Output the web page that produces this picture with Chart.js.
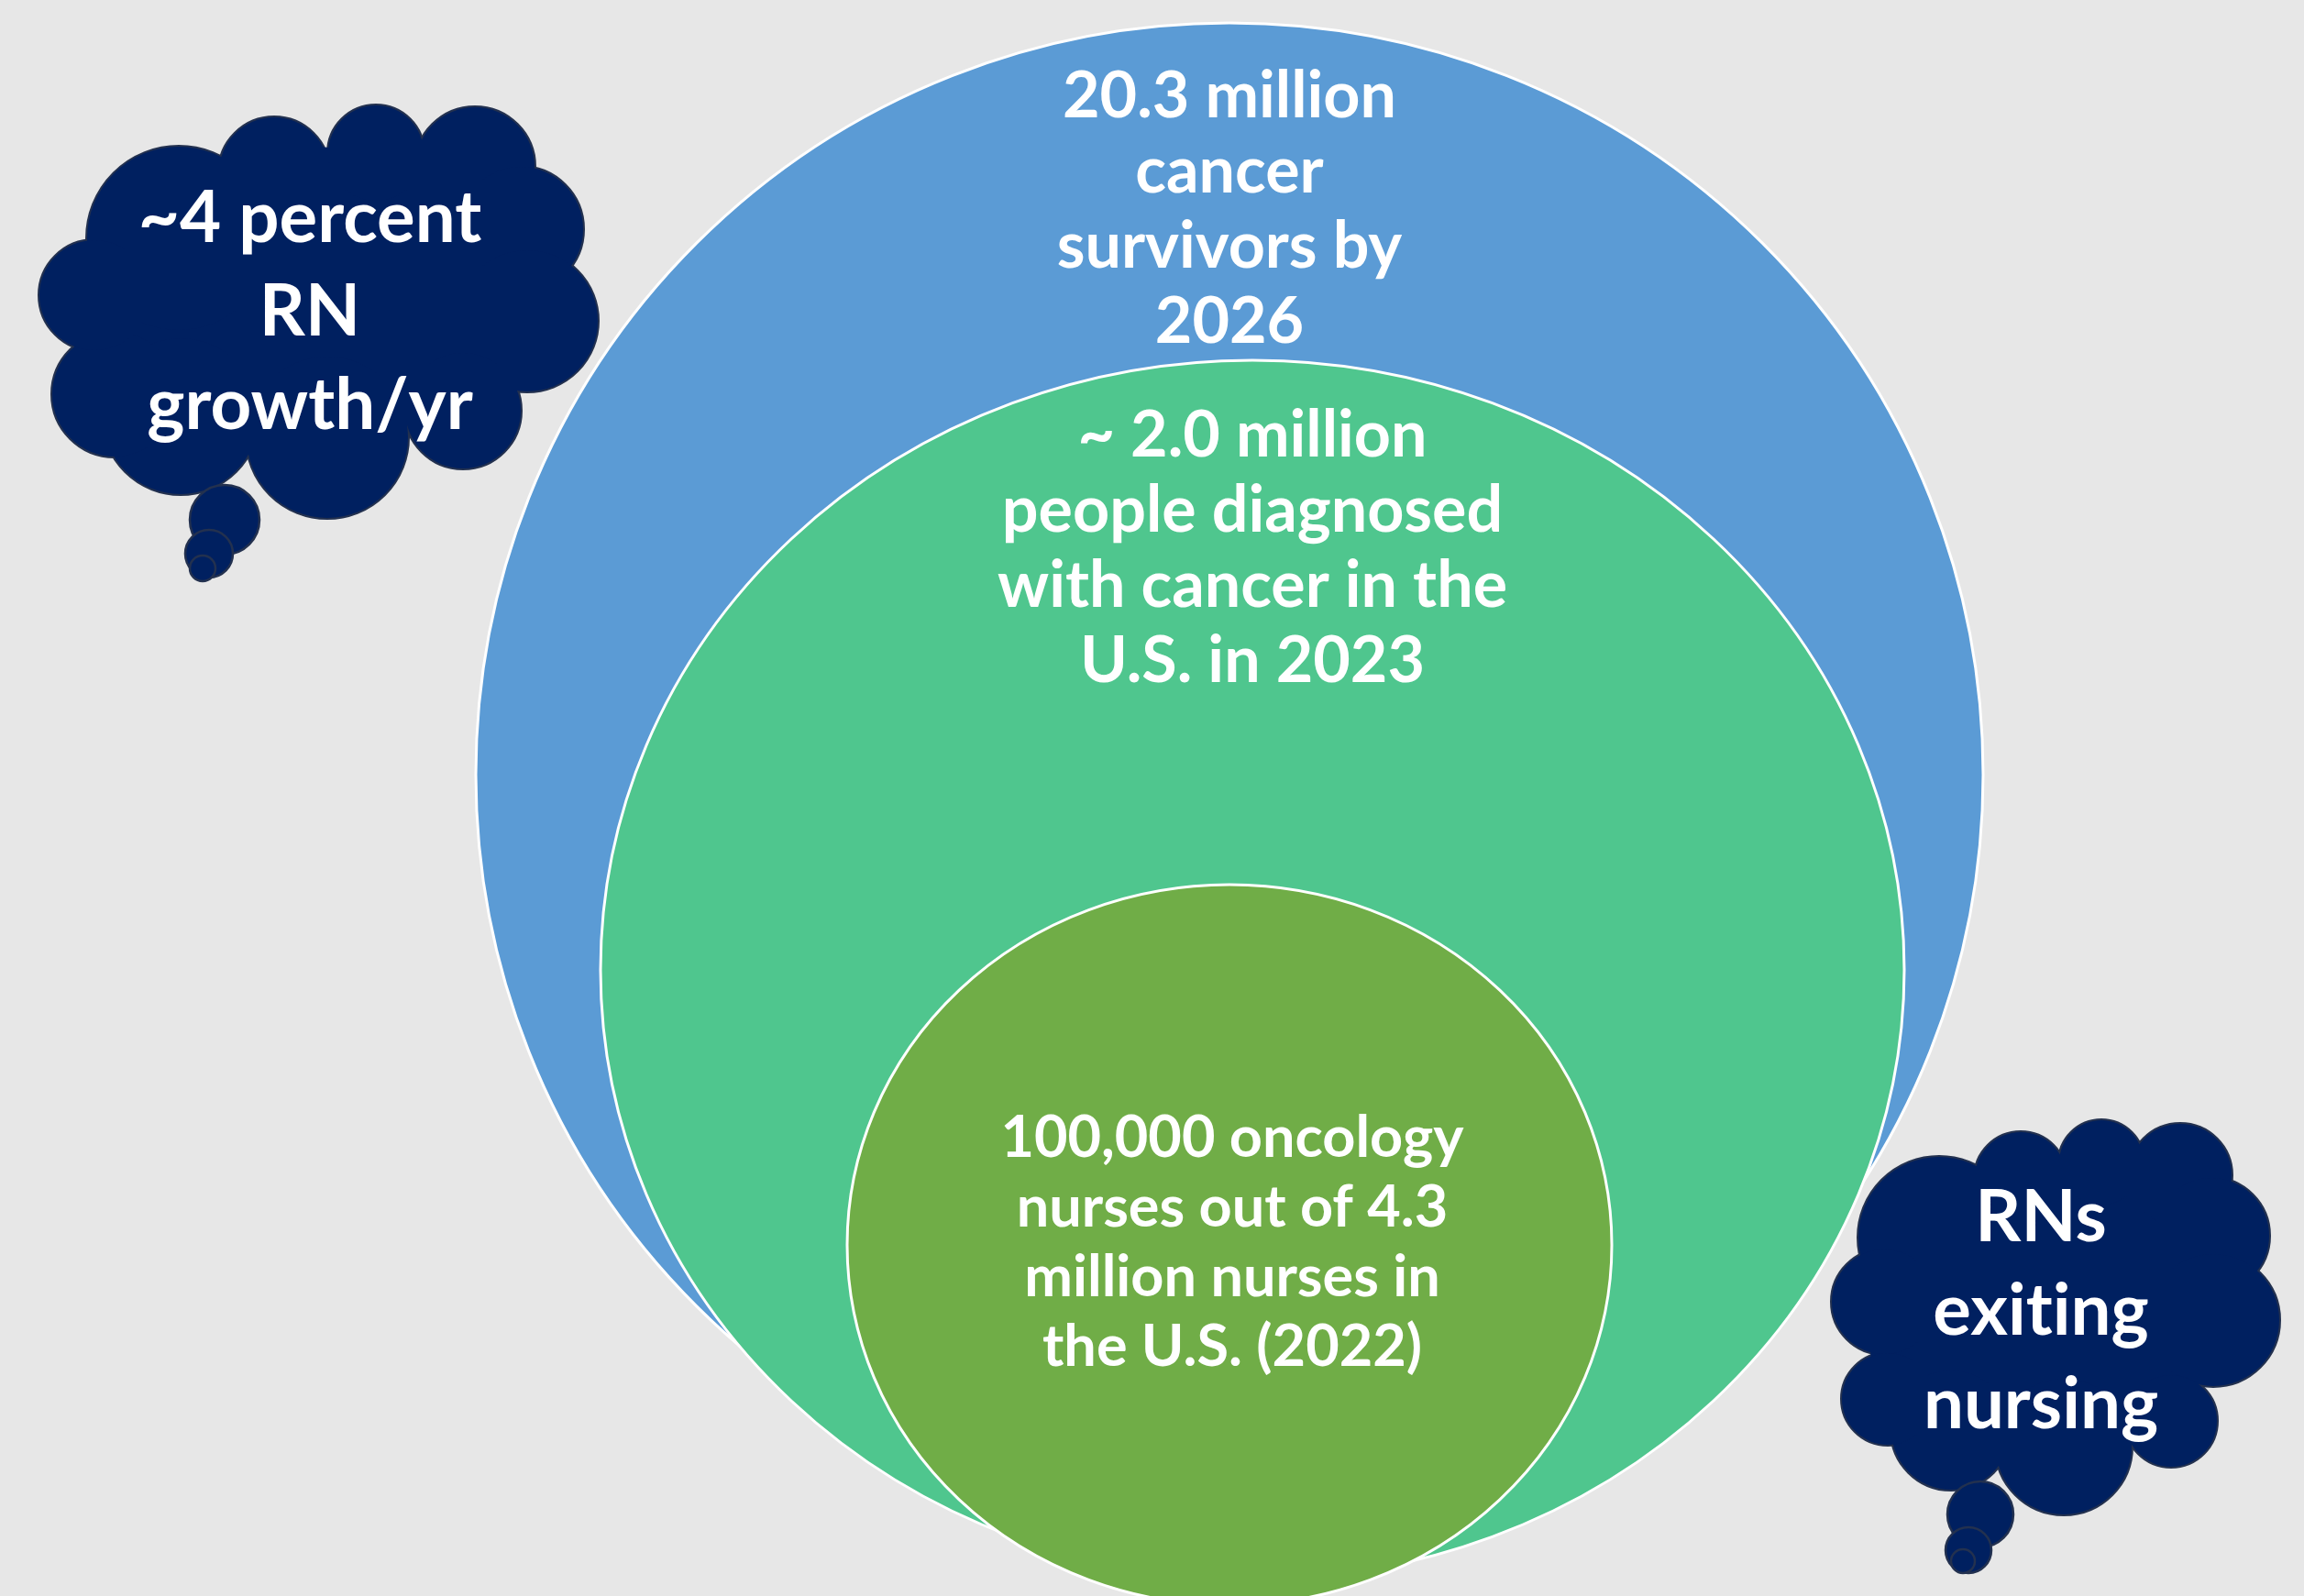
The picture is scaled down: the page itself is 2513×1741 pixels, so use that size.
<!DOCTYPE html>
<html>
<head>
<meta charset="utf-8">
<title>Oncology nursing workforce</title>
<script src="https://cdn.jsdelivr.net/npm/chart.js@4.4.1/dist/chart.umd.min.js"></script>
<style>
  html, body { margin: 0; padding: 0; background: #e7e7e7; overflow: hidden; }
  canvas { display: block; }
</style>
</head>
<body>
<canvas id="nested" width="2513" height="1741"></canvas>
<script>
// nested ellipses (data units = slide units)
const ringNames = ['survivors', 'diagnosed', 'oncologyNurses'];
const ringCenterX = [1341, 1366, 1341];
const ringCenterY = [845, 1058, 1358];
const ringRadiusX = [822, 711, 417];
const ringRadiusY = [820, 665, 393];
const ringLabels = [
  ['20.3 million', 'cancer', 'survivors by', '2026'],
  ['~ 2.0 million', 'people diagnosed', 'with cancer in the', 'U.S. in 2023'],
  ['100,000 oncology', 'nurses out of 4.3', 'million nurses in', 'the U.S. (2022)']
];

// thought clouds: puffs {x, y, r}
const leftCloudPuffs = [
  {x: 195, y: 260, r: 100}, {x: 299, y: 188, r: 60}, {x: 410, y: 167, r: 52},
  {x: 518, y: 182, r: 65}, {x: 568, y: 250, r: 68}, {x: 575, y: 350, r: 77},
  {x: 505, y: 448, r: 63}, {x: 357, y: 477, r: 88}, {x: 197, y: 454, r: 85},
  {x: 125, y: 430, r: 68}, {x: 103, y: 322, r: 60}
];
const leftCloudCore = [{x: 340, y: 330, r: 170}, {x: 430, y: 310, r: 150}, {x: 200, y: 360, r: 90}];
const leftCloudTail = [{x: 245, y: 567, r: 38}, {x: 228, y: 604, r: 26}, {x: 221, y: 620, r: 14}];

const rightCloudPuffs = [
  {x: 2115, y: 1350, r: 88}, {x: 2204, y: 1285, r: 50}, {x: 2292, y: 1268, r: 46},
  {x: 2378, y: 1282, r: 56}, {x: 2412, y: 1348, r: 63}, {x: 2414, y: 1440, r: 72},
  {x: 2368, y: 1550, r: 50}, {x: 2251, y: 1578, r: 74}, {x: 2128, y: 1560, r: 65},
  {x: 2059, y: 1526, r: 50}, {x: 2055, y: 1420, r: 57}
];
const rightCloudCore = [{x: 2240, y: 1430, r: 150}, {x: 2300, y: 1410, r: 130}, {x: 2120, y: 1470, r: 80}];
const rightCloudTail = [{x: 2160, y: 1652, r: 36}, {x: 2147, y: 1691, r: 25}, {x: 2141, y: 1703, r: 13}];

const cloudLabels = [
  ['~4 percent', 'RN', 'growth/yr'],
  ['RNs', 'exiting', 'nursing']
];

const ringColors = ['#5b9bd5', '#4fc68e', '#70ad47'];
const navy = '#002060';
const puffEdge = '#23314f';

// where each text block sits: centre x, first baseline, line step, font size
const ringText = [
  {x: 1341, y: 128, step: 82, size: 70},
  {x: 1366, y: 498, step: 82, size: 70},
  {x: 1344, y: 1262, step: 76, size: 63}
];
const cloudText = [
  {x: 338, y: 264, step: 102, size: 78},
  {x: 2226, y: 1354, step: 102, size: 78}
];

const ellipsePlugin = {
  id: 'ellipses',
  beforeDatasetsDraw(chart) {
    const {ctx, scales: {x, y}} = chart;
    ctx.save();
    ringNames.forEach(function(name, i) {
      const px = x.getPixelForValue(ringCenterX[i]);
      const py = y.getPixelForValue(ringCenterY[i]);
      const rx = Math.abs(x.getPixelForValue(ringCenterX[i] + ringRadiusX[i]) - px);
      const ry = Math.abs(y.getPixelForValue(ringCenterY[i] + ringRadiusY[i]) - py);
      ctx.beginPath();
      ctx.ellipse(px, py, rx, ry, 0, 0, Math.PI * 2);
      ctx.fillStyle = ringColors[i];
      ctx.fill();
      ctx.lineWidth = 3;
      ctx.strokeStyle = '#ffffff';
      ctx.stroke();
    });
    ctx.restore();
  }
};

function drawLines(ctx, x, y, lines, spot) {
  ctx.font = 'bold ' + spot.size + 'px Lato, "Open Sans", sans-serif';
  lines.forEach(function(line, i) {
    // zero-width non-joiner keeps Lato from using its "ti" ligature
    const txt = line.replace(/ti/g, 't\u200Ci');
    ctx.fillText(txt, x.getPixelForValue(spot.x), y.getPixelForValue(spot.y + i * spot.step));
  });
}

const labelPlugin = {
  id: 'labels',
  afterDatasetsDraw(chart) {
    const {ctx, scales: {x, y}} = chart;
    ctx.save();
    ctx.fillStyle = '#ffffff';
    ctx.textAlign = 'center';
    ctx.textBaseline = 'alphabetic';
    ringLabels.forEach(function(lines, i) { drawLines(ctx, x, y, lines, ringText[i]); });
    cloudLabels.forEach(function(lines, i) { drawLines(ctx, x, y, lines, cloudText[i]); });
    ctx.restore();
  }
};

function puffSet(data, fill, edge, width, order) {
  return {data: data, backgroundColor: fill, borderColor: edge, borderWidth: width, order: order, clip: false};
}

const ctx = document.getElementById('nested').getContext('2d');
const chart = new Chart(ctx, {
  type: 'bubble',
  data: {
    datasets: [
      // outlines first, then the fills cover the inner parts of them
      puffSet(leftCloudPuffs.concat(rightCloudPuffs), navy, puffEdge, 4, 4),
      puffSet(leftCloudCore.concat(rightCloudCore), navy, navy, 0, 3),
      puffSet(leftCloudPuffs.concat(rightCloudPuffs), navy, navy, 0, 2),
      puffSet(leftCloudTail.concat(rightCloudTail), navy, puffEdge, 2.5, 1)
    ]
  },
  options: {
    responsive: false,
    animation: false,
    events: [],
    devicePixelRatio: 1,
    layout: {padding: 0, autoPadding: false},
    plugins: {legend: {display: false}, tooltip: {enabled: false}},
    scales: {
      x: {type: 'linear', min: 0, max: 2513, display: false},
      y: {type: 'linear', min: 0, max: 1741, reverse: true, display: false}
    }
  },
  plugins: [ellipsePlugin, labelPlugin]
});
</script>
</body>
</html>
